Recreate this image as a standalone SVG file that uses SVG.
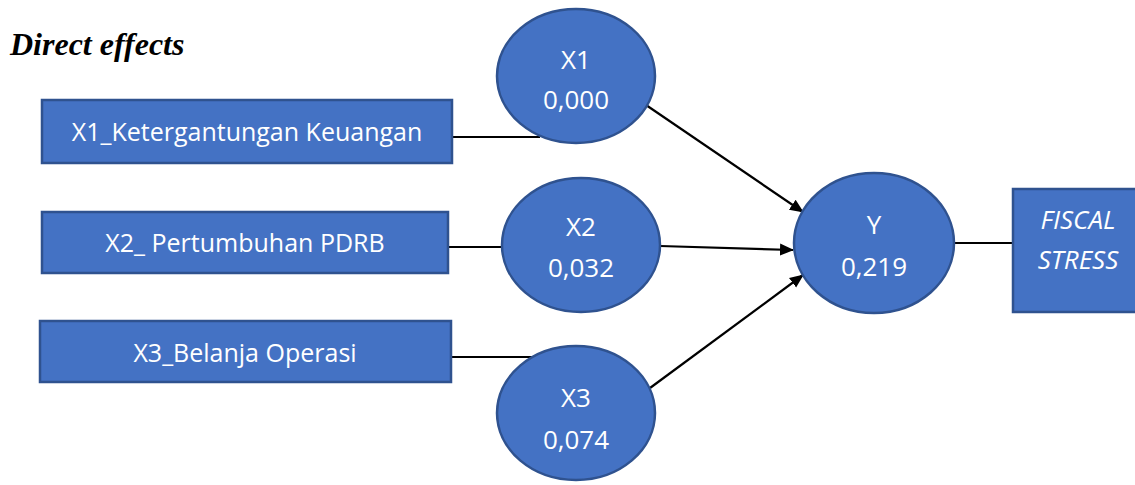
<svg xmlns="http://www.w3.org/2000/svg" width="1135" height="485" viewBox="0 0 1135 485">
<defs>
<style>
.box{fill:#4472C4;stroke:#2F528F;stroke-width:2.5}
.lbl{font-family:"Open Sans","Noto Sans",sans-serif;font-size:25px;fill:#ffffff;text-anchor:middle}
.big{font-size:26px}
.it{font-style:italic}
.con{stroke:#000;stroke-width:2.2;fill:none}
</style>
<marker id="arr" markerWidth="14" markerHeight="14" refX="13" refY="6" orient="auto" markerUnits="userSpaceOnUse" viewBox="0 0 14 12">
<path d="M0,0 L14,6 L0,12 z" fill="#000"/>
</marker>
</defs>
<rect width="1135" height="485" fill="#fff"/>
<text x="10" y="55" font-family="'Liberation Serif',serif" font-size="32" font-weight="bold" font-style="italic" fill="#000">Direct effects</text>
<g id="connectors">
<polyline class="con" points="452,137 540,137"/>
<line class="con" x1="448" y1="247" x2="502" y2="247"/>
<polyline class="con" points="451,357 538,357"/>
<line class="con" x1="646" y1="105" x2="803" y2="212" marker-end="url(#arr)"/>
<line class="con" x1="660" y1="246" x2="793" y2="250" marker-end="url(#arr)"/>
<line class="con" x1="650" y1="388" x2="803" y2="275" marker-end="url(#arr)"/>
<line class="con" x1="955" y1="243" x2="1013" y2="243"/>
</g>
<g id="r1"><rect class="box" x="42" y="100" width="410" height="63"/><text class="lbl" x="247" y="141">X1_Ketergantungan Keuangan</text></g>
<g id="r2"><rect class="box" x="42" y="212" width="406" height="61"/><text class="lbl" x="245" y="252">X2_ Pertumbuhan PDRB</text></g>
<g id="r3"><rect class="box" x="40" y="321" width="411" height="61"/><text class="lbl" x="245" y="362">X3_Belanja Operasi</text></g>
<g id="x1"><ellipse class="box" cx="576" cy="76" rx="79" ry="67"/><text class="lbl big" x="576" y="69">X1</text><text class="lbl big" x="576" y="109">0,000</text></g>
<g id="x2"><ellipse class="box" cx="581" cy="245" rx="79" ry="67"/><text class="lbl big" x="581" y="236">X2</text><text class="lbl big" x="581" y="277">0,032</text></g>
<g id="x3"><ellipse class="box" cx="576" cy="413" rx="79" ry="67"/><text class="lbl big" x="576" y="407">X3</text><text class="lbl big" x="576" y="449">0,074</text></g>
<g id="y"><ellipse class="box" cx="874" cy="243" rx="80" ry="70"/><text class="lbl big" x="874" y="234">Y</text><text class="lbl big" x="874" y="276">0,219</text></g>
<g id="fs"><rect class="box" x="1013" y="189" width="125" height="123"/><text class="lbl big it" x="1078" y="229">FISCAL</text><text class="lbl big it" x="1078" y="269">STRESS</text></g>
</svg>
